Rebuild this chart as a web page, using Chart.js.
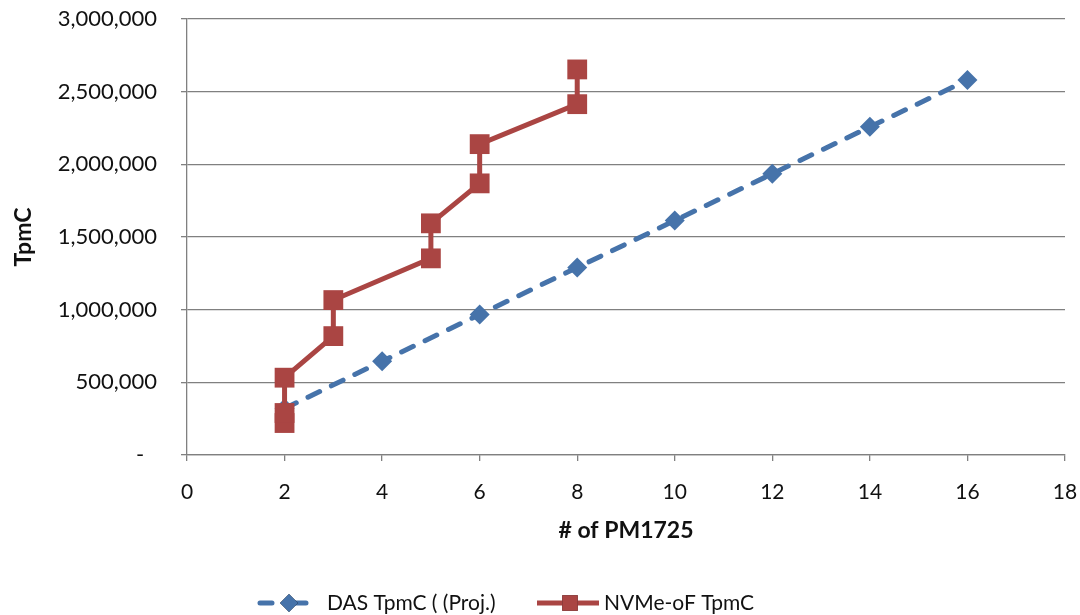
<!DOCTYPE html>
<html>
<head>
<meta charset="utf-8">
<script src="https://cdn.jsdelivr.net/npm/chart.js@4/dist/chart.umd.min.js"></script>
<style>
  html, body { margin: 0; padding: 0; background: #ffffff; }
  #c { display: block; }
</style>
</head>
<body>
<canvas id="c" width="1080" height="615"></canvas>
<script>
// ---- data ----
const dasLabel = "DAS TpmC ( (Proj.)";
const dasX = [2, 4, 6, 8, 10, 12, 14, 16];
const dasY = [320000, 645000, 967000, 1290000, 1613000, 1935000, 2258000, 2580000];

const nvmeLabel = "NVMe-oF TpmC";
const nvmeX = [2, 2, 2, 3, 3, 5, 5, 6, 6, 8, 8];
const nvmeY = [220000, 289000, 532000, 818000, 1066000, 1353000, 1594000, 1869000, 2139000, 2414000, 2653000];

const xTicks = [0, 2, 4, 6, 8, 10, 12, 14, 16, 18];
const yTicks = [0, 500000, 1000000, 1500000, 2000000, 2500000, 3000000];
const xTitle = "# of PM1725";
const yTitle = "TpmC";

const BLUE = "#4673AA";
const RED = "#AA4543";
const GRID = "#808080";
const FONT = "Lato, 'Open Sans', 'Liberation Sans', sans-serif";

const toPts = (xs, ys) => xs.map((x, i) => ({ x: x, y: ys[i] }));

const legendPlugin = {
  id: "customLegend",
  afterDraw(chart) {
    const ctx = chart.ctx;
    const y = 603;
    const items = [
      { ds: chart.data.datasets[0], x0: 258, x1: 316, tx: 327 },
      { ds: chart.data.datasets[1], x0: 537, x1: 599, tx: 604 }
    ];
    ctx.save();
    items.forEach(it => {
      const ds = it.ds;
      const dashed = ds.borderDash && ds.borderDash.length;
      ctx.strokeStyle = ds.borderColor;
      ctx.lineWidth = ds.borderWidth;
      ctx.lineCap = dashed ? "round" : "butt";
      ctx.setLineDash(dashed ? [12, 22] : []);
      ctx.beginPath();
      ctx.moveTo(it.x0 + (dashed ? 2 : 0), y);
      ctx.lineTo(it.x1, y);
      ctx.stroke();
      ctx.setLineDash([]);
      Chart.helpers.drawPoint(ctx, {
        pointStyle: ds.pointStyle,
        radius: ds.pointStyle === "rect" ? 11 : 9,
        borderWidth: 0
      }, (it.x0 + it.x1) / 2 + 2, y);
      ctx.fillStyle = ds.pointBackgroundColor;
      ctx.fill();
      ctx.fillStyle = "#111";
      ctx.font = "21px " + FONT;
      ctx.textBaseline = "middle";
      ctx.textAlign = "left";
      ctx.fillText(ds.label, it.tx, y);
    });
    ctx.restore();
  }
};

new Chart(document.getElementById("c"), {
  type: "scatter",
  data: {
    datasets: [
      {
        label: dasLabel,
        data: toPts(dasX, dasY),
        showLine: true,
        borderColor: BLUE,
        borderWidth: 5,
        borderDash: [13, 13],
        borderCapStyle: "round",
        pointStyle: "rectRot",
        pointRadius: 10,
        pointBackgroundColor: BLUE,
        pointBorderColor: BLUE,
        pointBorderWidth: 0,
        order: 2
      },
      {
        label: nvmeLabel,
        data: toPts(nvmeX, nvmeY),
        showLine: true,
        borderColor: RED,
        borderWidth: 5,
        pointStyle: "rect",
        pointRadius: 14,
        pointBackgroundColor: RED,
        pointBorderColor: RED,
        pointBorderWidth: 0,
        order: 1
      }
    ]
  },
  options: {
    responsive: false,
    animation: false,
    devicePixelRatio: 1,
    layout: { padding: { left: 0, right: 15, top: 19, bottom: 0 } },
    plugins: {
      legend: { display: false },
      tooltip: { enabled: false }
    },
    scales: {
      x: {
        type: "linear",
        min: xTicks[0],
        max: xTicks[xTicks.length - 1],
        afterBuildTicks: (s) => { s.ticks = xTicks.map(v => ({ value: v })); },
        afterFit: (s) => { s.height = 160; s.paddingLeft = 0; s.paddingRight = 0; },
        border: { color: GRID, width: 1.3 },
        grid: { drawOnChartArea: false, drawTicks: true, tickLength: 6, color: GRID, lineWidth: 1.3 },
        ticks: { color: "#111", font: { family: FONT, size: 21 }, padding: 19, maxRotation: 0 },
        title: {
          display: true, text: xTitle, color: "#111",
          font: { family: FONT, size: 23, weight: "bold" },
          padding: { top: 0, bottom: 71 }
        }
      },
      y: {
        type: "linear",
        min: yTicks[0],
        max: yTicks[yTicks.length - 1],
        afterBuildTicks: (s) => { s.ticks = yTicks.map(v => ({ value: v })); },
        afterFit: (s) => { s.width = 187; s.paddingTop = 0; s.paddingBottom = 0; },
        border: { color: GRID, width: 1.3 },
        grid: { color: GRID, lineWidth: 1.3, tickLength: 6 },
        ticks: {
          color: "#111", font: { family: FONT, size: 22 }, padding: 24,
          callback: (v) => v === 0 ? "-\u2007" : v.toLocaleString("en-US")
        },
        title: {
          display: true, text: yTitle, color: "#111",
          font: { family: FONT, size: 23, weight: "bold" },
          padding: { top: 10, bottom: 0 }
        }
      }
    }
  },
  plugins: [legendPlugin]
});
</script>
</body>
</html>
